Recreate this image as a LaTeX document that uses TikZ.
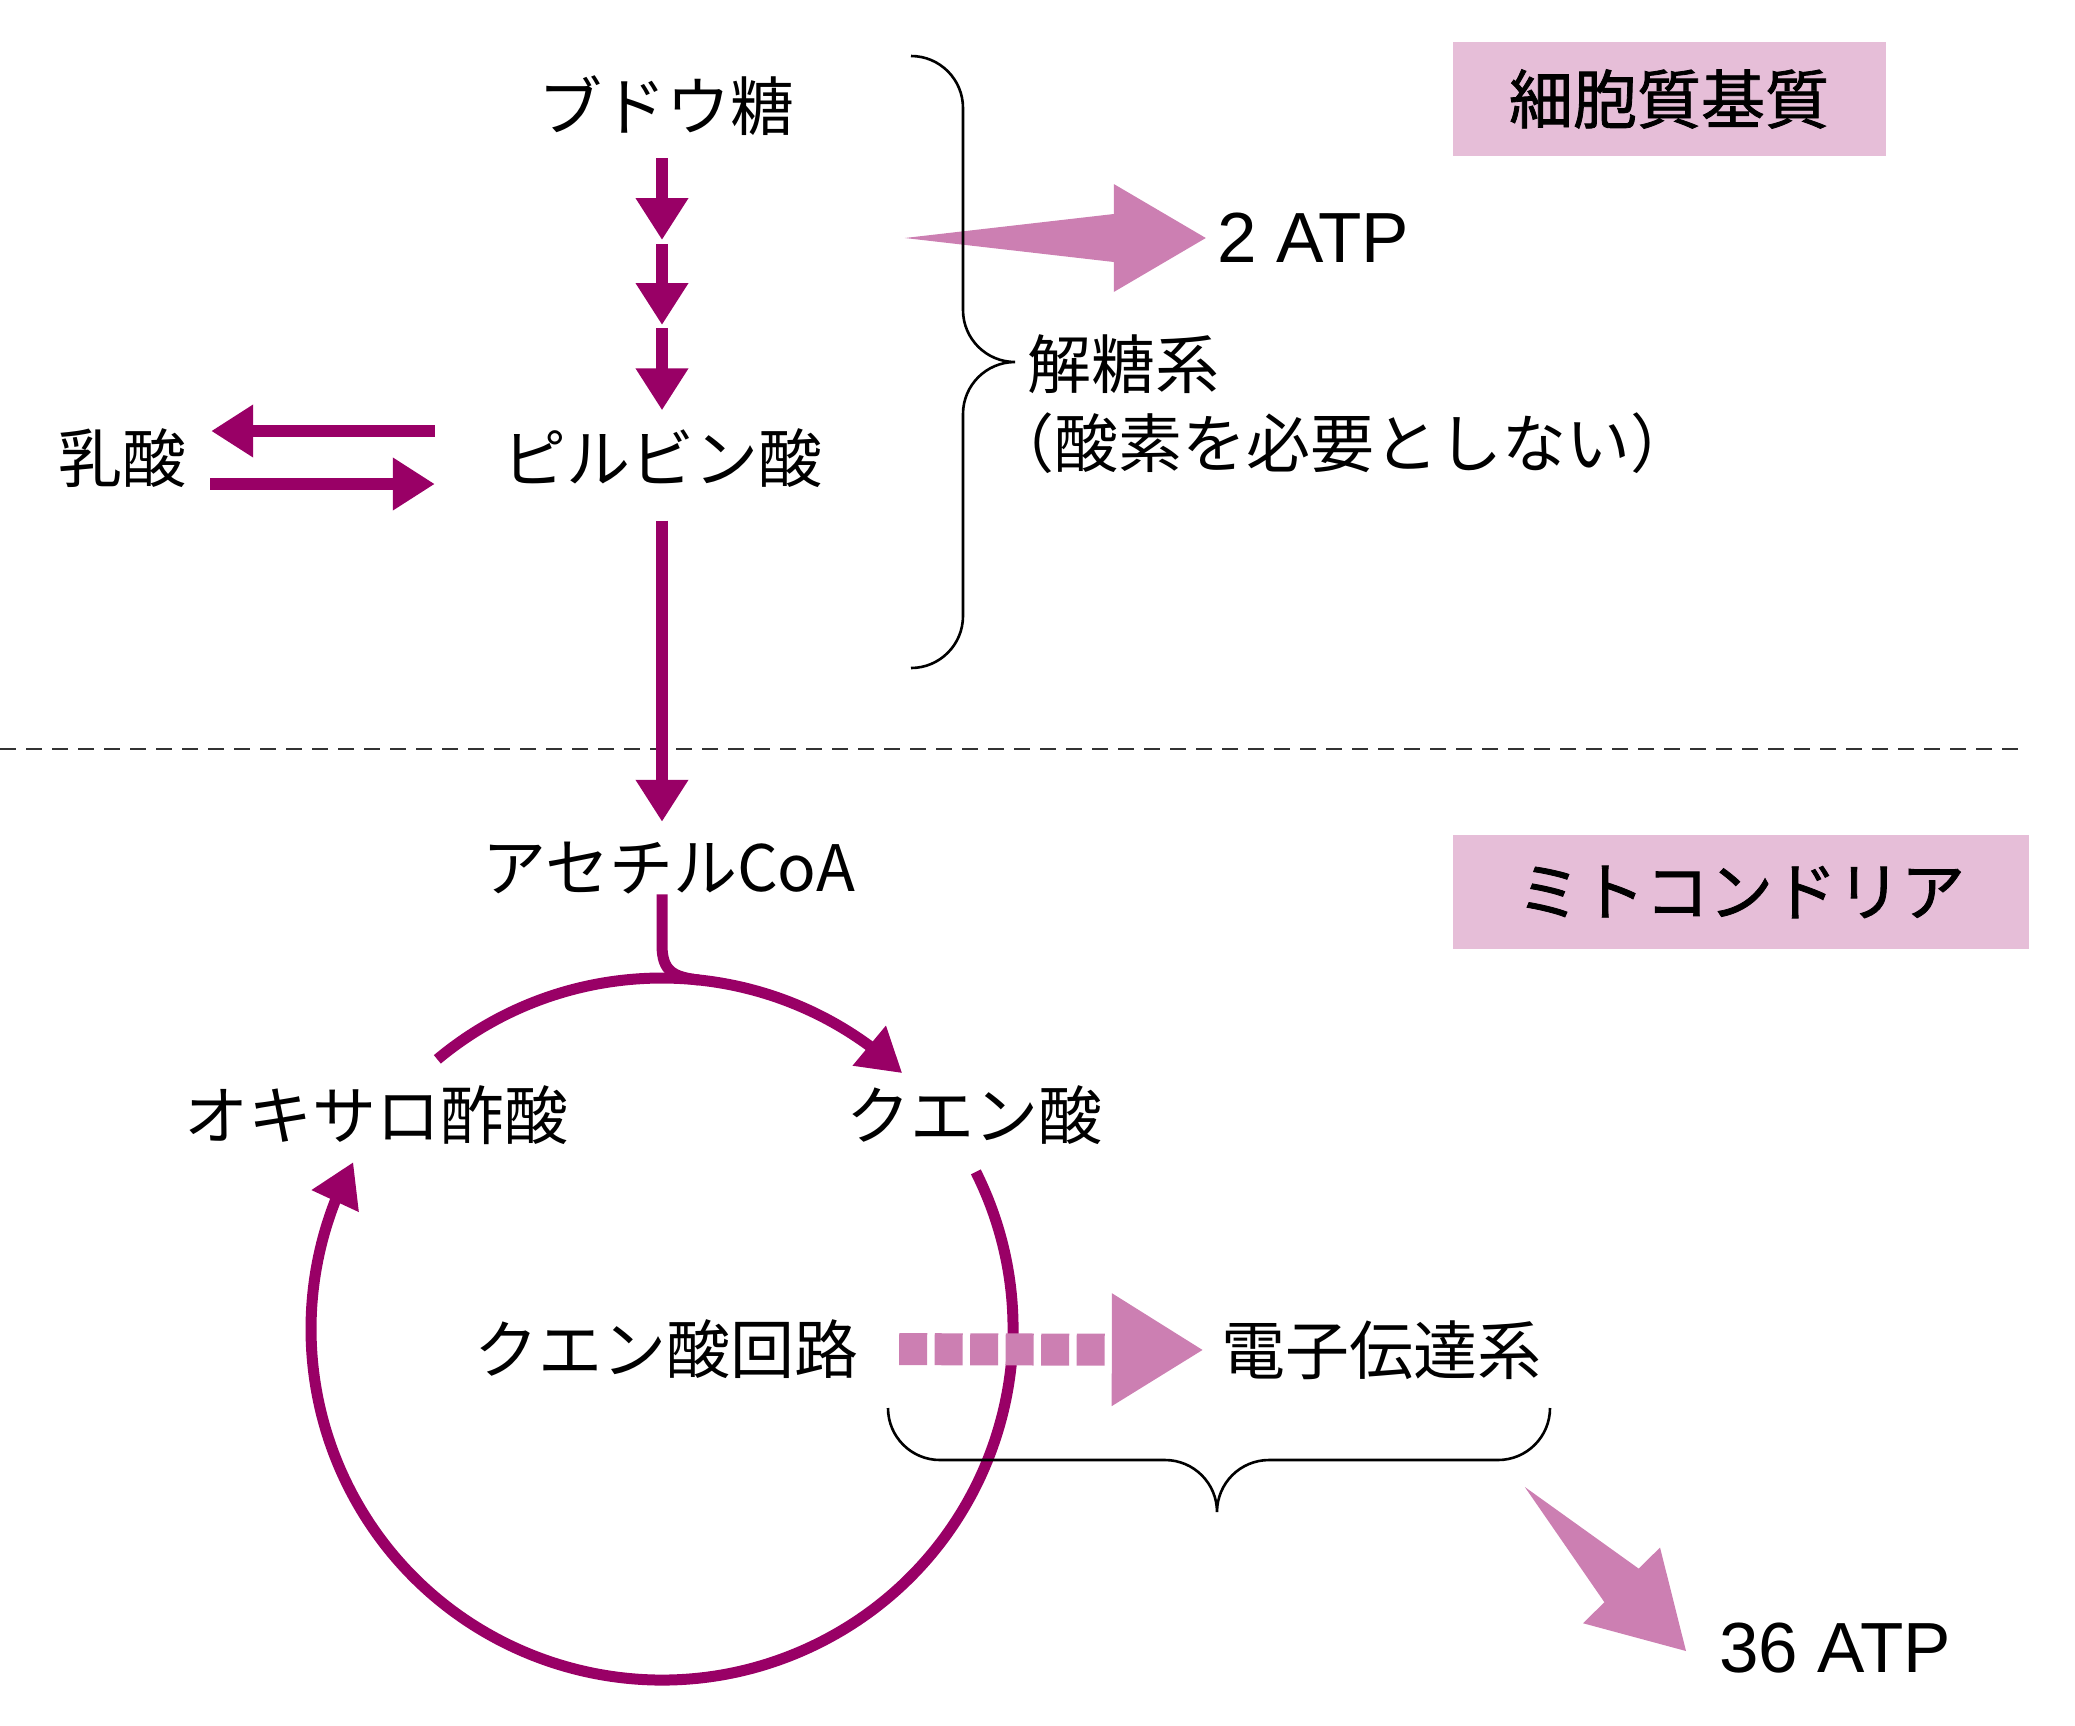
\documentclass[tikz,border=0pt]{standalone}
\usepackage{fontspec}
\setmainfont{Noto Sans CJK JP}
\newfontfamily\regionfont{Noto Sans CJK JP}[FakeBold=1.3]
\newfontfamily\atpfont{Liberation Sans}
\usetikzlibrary{arrows.meta,bending}
\definecolor{tcamag}{HTML}{990066}
\definecolor{atprose}{HTML}{CC7FB2}
\definecolor{regionpink}{HTML}{E6BED8}

\begin{document}
\begin{tikzpicture}[x=1pt,y=-1pt,
    lbl/.style={inner sep=0pt, font=\fontsize{64}{70}\selectfont},
    atplbl/.style={inner sep=0pt, font=\atpfont\fontsize{71}{80}\selectfont},
    region/.style={fill=regionpink, inner sep=0pt, minimum height=114pt,
      font=\regionfont\fontsize{64}{70}\selectfont},
    darr/.style={draw=tcamag, line width=12pt, -{Triangle[length=42pt,width=50pt]}},
    cyc/.style={draw=tcamag, line width=11pt},
    cycarr/.style={cyc, -{Triangle[length=43pt,width=49pt]}},
    eflow/.style={draw=atprose, line width=32pt, dash pattern=on 28pt off 7.5pt,
      -{Triangle[length=92pt,width=106pt]}},
    brace/.style={draw=black, line width=2.6pt},
    membrane/.style={draw=black!80, line width=2pt, dash pattern=on 16pt off 10pt}
  ]
  \useasboundingbox (0,0) rectangle (2075,1725);

  % cytoplasm
  \node[region, minimum width=433pt] (cyto) at (1669,99) {細胞質基質};
  \node[lbl] (glc)  at (666,106) {ブドウ糖};
  \node[lbl] (pyr)  at (662,458) {ピルビン酸};
  \node[lbl] (lac)  at (122,458) {乳酸};
  \node[atplbl] (atp2) at (1313,238) {2 ATP};
  \node[lbl, anchor=west] (glyc)  at (1027,364) {解糖系};
  \node[lbl, anchor=west] (glyc2) at (990,443) {（酸素を必要としない）};

  \coordinate (c1) at (662,242);
  \coordinate (c2) at (662,326);
  \draw[darr, shorten <=22pt, shorten >=2pt] (glc.south -| c1) -- (c1);
  \draw[darr, shorten <=2pt, shorten >=1pt] (c1) -- (c2);
  \draw[darr, shorten <=2pt, shorten >=18pt] (c2) -- (pyr.north -| c2);
  \draw[darr, shorten <=67pt, shorten >=25pt] ([yshift=27pt]pyr.west) -- ([yshift=27pt]lac.east);
  \draw[darr, shorten <=24pt, shorten >=67pt] ([yshift=-26pt]lac.east) -- ([yshift=-26pt]pyr.west);

  \fill[atprose] ([xshift=-11pt]atp2.west) -- ++(-92,-54) -- ++(0,30) -- ++(-209,24)
    -- ++(209,24) -- ++(0,30) -- cycle;

  \draw[brace] (911,56) arc[start angle=-90, end angle=0, radius=52] -- (963,310)
    arc[start angle=180, end angle=90, radius=52]
    arc[start angle=-90, end angle=-180, radius=52] -- (963,616)
    arc[start angle=0, end angle=90, radius=52];

  % mitochondrion
  \draw[membrane] (0,749) -- (2025,749);
  \node[region, minimum width=576pt] (mito) at (1741,892) {ミトコンドリア};
  \node[lbl] (acoa) at (669,868) {アセチルCoA};
  \draw[darr, shorten <=33pt, shorten >=20pt] (pyr.south) -- (pyr.south |- acoa.north);

  \coordinate (ctr) at (662,1329);
  \node[lbl] (oaa) at (376,1115) {オキサロ酢酸};
  \node[lbl] (cit) at (974,1115) {クエン酸};
  \node[lbl] (tca) at (666,1349) {クエン酸回路};
  \node[lbl] (etc) at (1381,1350) {電子伝達系};
  \node[atplbl] (atp36) at (1835,1648) {36 ATP};

  \draw[cycarr] ([shift={(-129.8:351)}]ctr) arc[start angle=-129.8, end angle=-46.8, radius=351];
  \draw[cycarr] ([shift={(-26.6:351)}]ctr) arc[start angle=-26.6, end angle=208.4, radius=351];
  \draw[cyc] (ctr |- acoa.south) -- (662,945) .. controls (662,972) and (674,977) .. (699,980);

  \draw[eflow, shorten <=41pt, shorten >=17pt] (tca.east) -- (etc.west);

  \draw[brace] (888,1408) arc[start angle=180, end angle=90, radius=52] -- (1165,1460)
    arc[start angle=-90, end angle=0, radius=52]
    arc[start angle=180, end angle=270, radius=52] -- (1498,1460)
    arc[start angle=90, end angle=0, radius=52];

  \coordinate (t36) at (1686,1651);
  \fill[atprose, shift={(t36)}, rotate=-45.5] (0,0) -- (-92,-54) -- (-92,-24) -- (-230,0)
    -- (-92,24) -- (-92,54) -- cycle;
\end{tikzpicture}
\end{document}
